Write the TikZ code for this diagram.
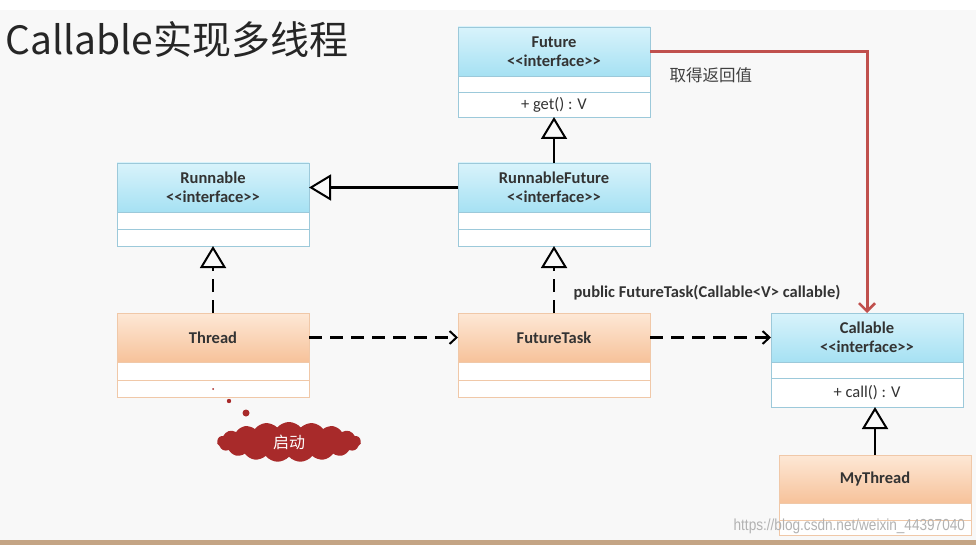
\documentclass[tikz,border=0pt]{standalone}
\usepackage{fontspec}
\setmainfont{Carlito}
\newfontfamily\cjk{Noto Sans CJK SC}
\newfontfamily\markfont{Liberation Sans}
\usetikzlibrary{arrows.meta,positioning,shapes.symbols}
\definecolor{ifacetop}{HTML}{D8F3FB}
\definecolor{ifacebot}{HTML}{A6E1F3}
\definecolor{ifaceline}{HTML}{9CC9DA}
\definecolor{classtop}{HTML}{FDE8D6}
\definecolor{classbot}{HTML}{F7C29A}
\definecolor{classline}{HTML}{F0C8A8}
\definecolor{redline}{HTML}{C0504D}
\definecolor{cloudred}{HTML}{A82A2A}
\definecolor{bg}{HTML}{F8F8F8}
\definecolor{rule}{HTML}{C4A484}

\tikzset{
  box/.style={draw=#1, rectangle, minimum width=192pt, inner sep=0pt, outer sep=0pt,
    line width=0.8pt, align=center, text=black!80},
  ihead/.style={box=ifaceline, top color=ifacetop, bottom color=ifacebot,
    minimum height=49pt, font=\bfseries\fontsize{16.5}{19.5}\selectfont},
  chead/.style={box=classline, top color=classtop, bottom color=classbot,
    minimum height=49pt, font=\bfseries\fontsize{16.5}{19.5}\selectfont},
  icomp/.style={box=ifaceline, fill=white, minimum height=#1, font=\fontsize{16.5}{18}\selectfont},
  ccomp/.style={box=classline, fill=white, minimum height=#1},
  inherit/.style={line width=2.4pt, -{Triangle[open, length=22pt, width=26pt, line width=2pt]}},
  realize/.style={inherit, dash pattern=on 13pt off 8pt},
  depend/.style={line width=2.4pt, dash pattern=on 13pt off 8pt,
    -{Straight Barb[length=7pt, width=13pt, line width=2pt]}},
}

\begin{document}
\begin{tikzpicture}[x=1pt, y=-1pt]
    \useasboundingbox (0,0) rectangle (976,545);
    % background
    \fill[white] (0,0) rectangle (976,545);
    \fill[bg] (0,10) rectangle (976,540);
    \fill[rule] (0,540) rectangle (976,545);

    \node[anchor=west, font=\cjk\fontsize{39}{46}\selectfont, text=black!85] (title) at (2,40) {Callable实现多线程};

    % interfaces
    \node[ihead, anchor=north west] (fut) at (458,27) {Future\\{<}{<}interface{>}{>}};
    \node[icomp=16pt, below=0pt of fut] (futA) {};
    \node[icomp=25pt, below=0pt of futA] (futB) {+ get() : V};

    \node[ihead, anchor=north west] (rfut) at (458,163) {RunnableFuture\\{<}{<}interface{>}{>}};
    \node[icomp=17pt, below=0pt of rfut] (rfutA) {};
    \node[icomp=17pt, below=0pt of rfutA] (rfutB) {};

    \node[ihead, anchor=north west] (run) at (117,163) {Runnable\\{<}{<}interface{>}{>}};
    \node[icomp=17pt, below=0pt of run] (runA) {};
    \node[icomp=17pt, below=0pt of runA] (runB) {};

    \node[ihead, anchor=north west] (call) at (771,313) {Callable\\{<}{<}interface{>}{>}};
    \node[icomp=16pt, below=0pt of call] (callA) {};
    \node[icomp=29pt, below=0pt of callA] (callB) {+ call() : V};

    % classes
    \node[chead, anchor=north west] (thr) at (117,313) {Thread};
    \node[ccomp=18pt, below=0pt of thr] (thrA) {};
    \node[ccomp=17pt, below=0pt of thrA] (thrB) {};

    \node[chead, anchor=north west] (ftask) at (458,313) {FutureTask};
    \node[ccomp=18pt, below=0pt of ftask] (ftaskA) {};
    \node[ccomp=17pt, below=0pt of ftaskA] (ftaskB) {};

    \node[chead, minimum height=48pt, anchor=north west] (myt) at (779,455) {MyThread};
    \node[ccomp=17pt, below=0pt of myt] (mytA) {};
    \node[ccomp=15pt, below=0pt of mytA] (mytB) {};

    % relations
    \draw[inherit] (rfut.north) -- (futB.south);
    \draw[inherit] (rfut.west) -- (run.east);
    \draw[realize] (thr.north) -- (runB.south);
    \draw[realize] (ftask.north) -- (rfutB.south);
    \draw[depend] (thr.east) -- (ftask.west);
    \draw[depend] (ftask.east) -- (call.west);
    \draw[inherit] (myt.north) -- (myt.north |- callB.south);
    \draw[redline, line width=3pt, -{Straight Barb[length=8pt, width=16pt, line width=2.5pt]}]
      (fut.east) -| (call.north);

    \node[anchor=west, font=\cjk\fontsize{16.5}{18}\selectfont, text=black!75] (getlbl) at (666,75) {取得返回值};
    \node[anchor=west, font=\bfseries\fontsize{16.5}{19}\selectfont, text=black!80] (ctor) at (570,293)
      {public FutureTask(Callable<V> callable)};

    % start cloud
    \fill[cloudred] (213,389) circle (1pt);
    \fill[cloudred] (229,401) circle (2.2pt);
    \fill[cloudred] (246,413) circle (3.5pt);
    \node[cloud, cloud puffs=19, cloud puff arc=100, aspect=3.5, fill=cloudred,
      minimum width=144pt, minimum height=40pt, inner sep=0pt, text=white,
      font=\cjk\fontsize{16}{16}\selectfont] (start) at (289,442) {启动};

    \node[anchor=east, text=black!30, font=\markfont\fontsize{16}{16}\selectfont, xscale=0.85] (mark)
      at (968,526) {https://blog.csdn.net/weixin\_44397040};
\end{tikzpicture}
\end{document}
